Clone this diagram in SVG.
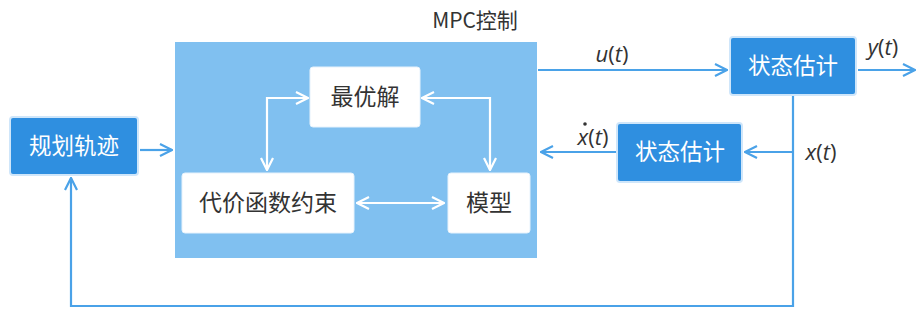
<svg xmlns="http://www.w3.org/2000/svg" width="920" height="311" viewBox="0 0 920 311">
<style>
.bluebox{fill:#2f8fe0;stroke:#cfe6fa;stroke-width:2}
.whitebox{fill:#ffffff;stroke:#e6f2fc;stroke-width:1}
.wlabel{font-family:"Noto Sans CJK SC","Noto Sans",sans-serif;font-size:22.5px;fill:#ffffff;text-anchor:middle}
.dlabel{font-family:"Noto Sans CJK SC","Noto Sans",sans-serif;font-size:23px;fill:#333333;text-anchor:middle}
.math{font-family:"Open Sans","Liberation Sans",sans-serif;font-size:22px;fill:#333333;text-anchor:middle}
.bl{fill:none;stroke:#4aa2e8;stroke-width:2.2}
.wl{fill:none;stroke:#ffffff;stroke-width:2.2}
</style>
<defs>
<marker id="ab" viewBox="0 0 14 14" refX="13" refY="7" markerWidth="14" markerHeight="14" markerUnits="userSpaceOnUse" orient="auto-start-reverse">
<path d="M1,1 L13,7 L1,13" fill="none" stroke="#4aa2e8" stroke-width="2.2"/>
</marker>
<marker id="aw" viewBox="0 0 14 14" refX="13" refY="7" markerWidth="14" markerHeight="14" markerUnits="userSpaceOnUse" orient="auto-start-reverse">
<path d="M1,1 L13,7 L1,13" fill="none" stroke="#ffffff" stroke-width="2.2"/>
</marker>
</defs>
<rect width="920" height="311" fill="#ffffff"/>

<g id="mpc">
<rect x="175" y="42" width="362" height="216" fill="#80c0f0"/>
<text class="math" x="475" y="28" style="font-family:'Noto Sans CJK SC','Open Sans',sans-serif;font-size:21px">MPC控制</text>
</g>

<g id="connectors">
<polyline class="wl" points="308,98 267,98 267,170" marker-start="url(#aw)" marker-end="url(#aw)"/>
<polyline class="wl" points="422,98 490,98 490,170" marker-start="url(#aw)" marker-end="url(#aw)"/>
<line class="wl" x1="357" y1="203" x2="444" y2="203" marker-start="url(#aw)" marker-end="url(#aw)"/>
<line class="bl" x1="140" y1="150" x2="172" y2="150" marker-end="url(#ab)"/>
<line class="bl" x1="538" y1="70" x2="727" y2="70" marker-end="url(#ab)"/>
<line class="bl" x1="858" y1="70" x2="915" y2="70" marker-end="url(#ab)"/>
<line class="bl" x1="793" y1="152" x2="745" y2="152" marker-end="url(#ab)"/>
<line class="bl" x1="616" y1="152" x2="541" y2="152" marker-end="url(#ab)"/>
<polyline class="bl" points="793,96 793,306 71,306 71,178" marker-end="url(#ab)"/>
</g>

<g id="plan">
<rect class="bluebox" x="10" y="117" width="128" height="58" rx="3"/>
<text class="wlabel" x="74" y="154">规划轨迹</text>
</g>

<g id="opt">
<rect class="whitebox" x="310" y="67" width="110" height="60" rx="3"/>
<text class="dlabel" x="365" y="105">最优解</text>
</g>

<g id="cost">
<rect class="whitebox" x="182" y="173" width="172" height="60" rx="3"/>
<text class="dlabel" x="268" y="211">代价函数约束</text>
</g>

<g id="model">
<rect class="whitebox" x="448" y="173" width="82" height="60" rx="3"/>
<text class="dlabel" x="489" y="211">模型</text>
</g>

<g id="est1">
<rect class="bluebox" x="730" y="37" width="126" height="58" rx="3"/>
<text class="wlabel" x="793" y="74">状态估计</text>
</g>

<g id="est2">
<rect class="bluebox" x="617" y="123" width="125" height="59" rx="3"/>
<text class="wlabel" x="680" y="160">状态估计</text>
</g>

<g id="labels">
<text class="math" x="612" y="62"><tspan font-style="italic">u</tspan>(<tspan font-style="italic">t</tspan>)</text>
<text class="math" x="883" y="55"><tspan font-style="italic">y</tspan>(<tspan font-style="italic">t</tspan>)</text>
<text class="math" x="821" y="160"><tspan font-style="italic">x</tspan>(<tspan font-style="italic">t</tspan>)</text>
<text class="math" x="593" y="145"><tspan font-style="italic">x</tspan>(<tspan font-style="italic">t</tspan>)</text>
<circle cx="585" cy="124" r="1.8" fill="#333333"/>
</g>
</svg>
